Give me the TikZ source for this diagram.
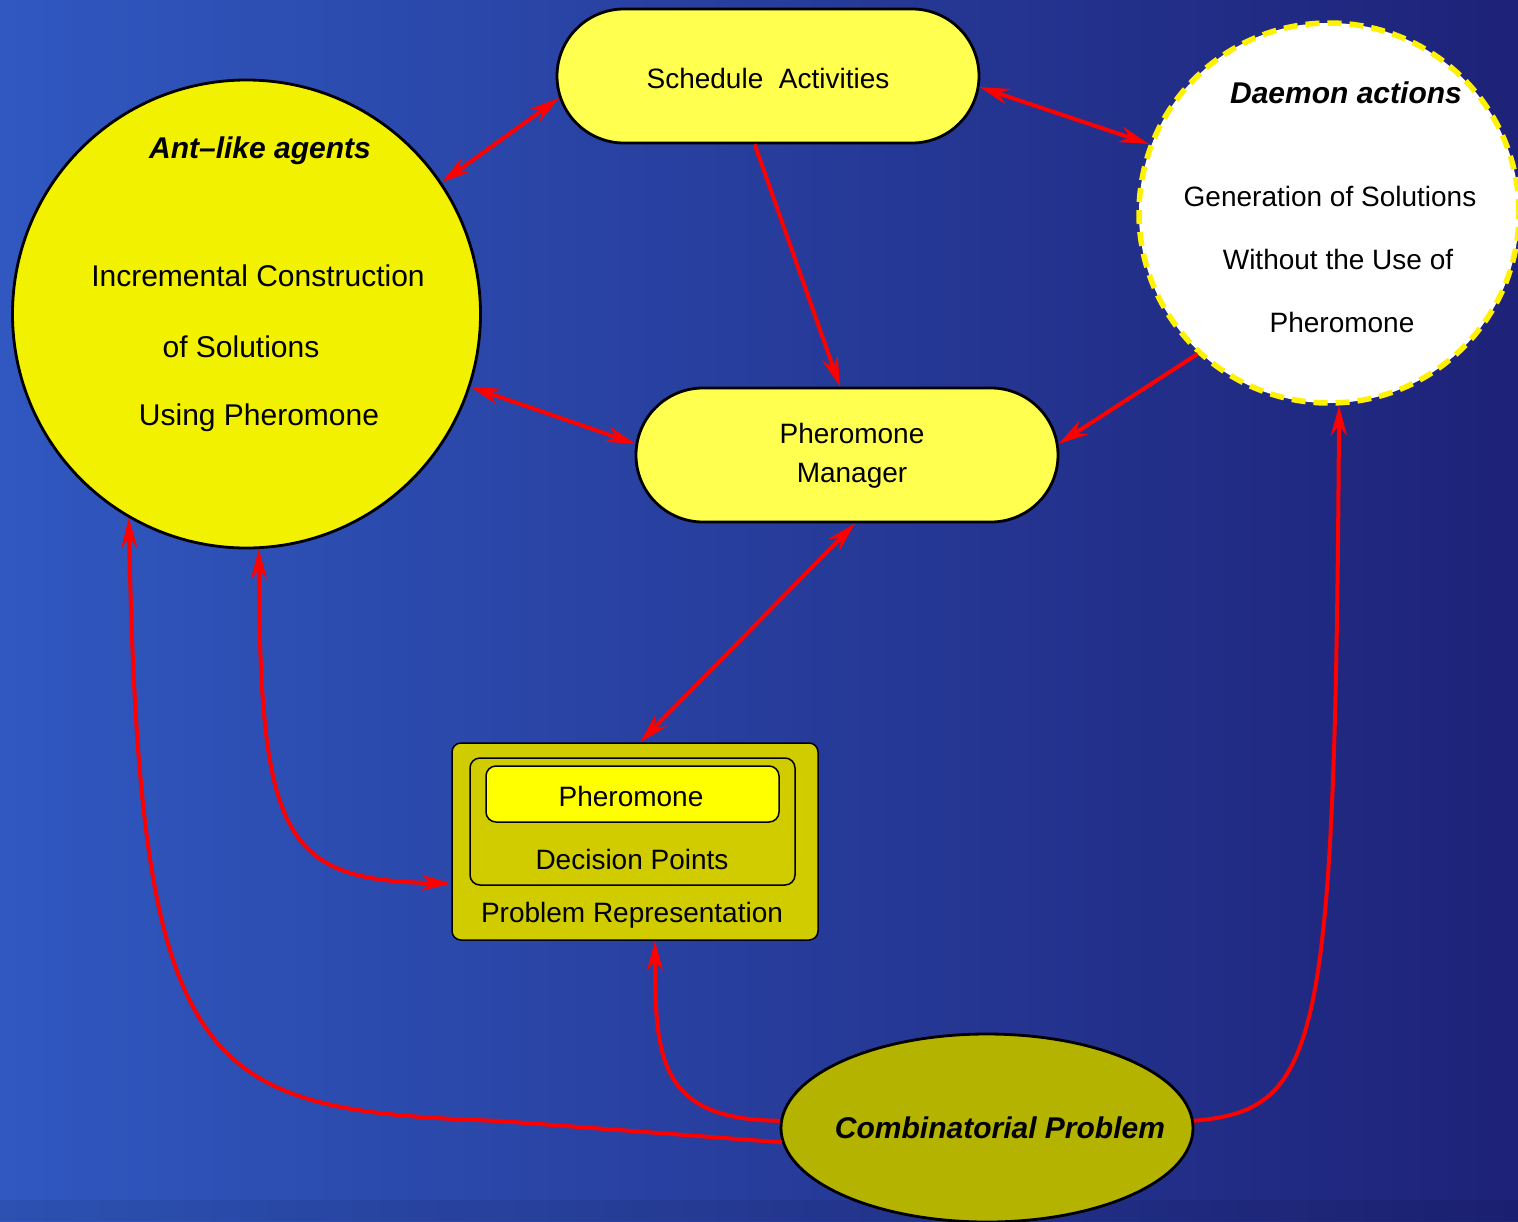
\documentclass[tikz,border=0pt]{standalone}
\usepackage{fontspec}
\setmainfont{Liberation Sans}
\usetikzlibrary{arrows.meta,shapes.geometric,shapes.misc}
\definecolor{bgL}{RGB}{48,88,192}
\definecolor{bgR}{RGB}{30,34,120}
\definecolor{antY}{RGB}{242,242,0}
\definecolor{stadY}{RGB}{255,255,80}
\definecolor{probY}{RGB}{208,204,0}
\definecolor{pherY}{RGB}{255,255,0}
\definecolor{combY}{RGB}{180,180,0}
\tikzset{
  reg/.style={font=\fontsize{28}{34}\selectfont, text=black, inner sep=0pt},
  regL/.style={font=\fontsize{30}{36}\selectfont, text=black, inner sep=0pt},
  bi/.style={font=\fontsize{30}{36}\selectfont\bfseries\itshape, text=black, inner sep=0pt},
  stadium/.style={rounded rectangle, draw=black, line width=2.8pt, fill=stadY,
    minimum width=422pt, minimum height=134pt, inner sep=0pt},
  arr/.style={draw=red, line width=4pt, -{Stealth[length=30pt,width=16pt,inset=10pt]}},
  barr/.style={draw=red, line width=4pt, {Stealth[length=30pt,width=16pt,inset=10pt]}-{Stealth[length=30pt,width=16pt,inset=10pt]}},
  boxr/.style={draw=black, line width=1.5pt, rounded corners=10pt, inner sep=0pt}
}
\begin{document}
\begin{tikzpicture}[x=1pt,y=-1pt]
\useasboundingbox (0,0) rectangle (1518,1221);
\clip (0,0) rectangle (1518,1221);
\shade[left color=bgL, right color=bgR] (0,0) rectangle (1518,1221);
\fill[black, opacity=0.07] (0,1200) rectangle (1518,1221);

% Ant-like agents
\node[circle, draw=black, line width=2.8pt, fill=antY, minimum size=468pt, inner sep=0pt] (ant) at (246.5,314) {};
\node[bi] (antT) at (260,151) {Ant\textendash like agents};
\node[regL] (antL1) at (258,276) {Incremental Construction};
\node[regL] (antL2) at (241,347) {of Solutions};
\node[regL] (antL3) at (259,418) {Using Pheromone};

% Schedule activities
\node[stadium] (sched) at (768,76) {};
\node[reg] (schedT) at (768,78) {Schedule\ \ Activities};

% Pheromone manager
\node[stadium] (mgr) at (847,455) {};
\node[reg, align=center, font=\fontsize{28}{39}\selectfont] (mgrT) at (852,456) {Pheromone\\Manager};

% Daemon actions
\node[circle, draw=yellow, line width=5.5pt, dash pattern=on 14pt off 8pt, fill=white, minimum size=380pt, inner sep=0pt] (dae) at (1329,213) {};
\node[bi] (daeT) at (1346,93) {Daemon actions};
\node[reg] (daeL1) at (1330,196) {Generation of Solutions};
\node[reg] (daeL2) at (1338,259) {Without the Use of};
\node[reg] (daeL3) at (1342,322) {Pheromone};

% Problem representation
\node[boxr, fill=probY, rounded corners=9pt, minimum width=366pt, minimum height=197pt] (prob) at (635,841.5) {};
\node[boxr, fill=probY, minimum width=325pt, minimum height=127pt] (dec) at (632.5,821.5) {};
\node[boxr, fill=pherY, minimum width=293pt, minimum height=56pt] (pher) at (632.5,794) {};
\node[reg] (pherT) at (631,796) {Pheromone};
\node[reg] (decT) at (632,859) {Decision Points};
\node[reg] (probT) at (632,915) {Problem Representation};

% Combinatorial problem
\node[ellipse, draw=black, line width=2.8pt, fill=combY, minimum width=412pt, minimum height=188pt, inner sep=0pt] (comb) at (987,1128) {};
\node[bi] (combT) at (1000,1128) {Combinatorial Problem};

% connectors
\draw[barr] (ant.34) -- (sched.186);
\draw[barr] (sched.-3.5) -- (dae.159);
\draw[arr] (sched.259) -- ([xshift=-7pt]mgr.north);
\draw[barr] (ant.-18) -- (mgr.177);
\draw[arr] (dae.227.5) -- (mgr.3);
\draw[barr] ([xshift=8pt]mgr.south) -- ([xshift=5pt]prob.north);
\draw[barr] (ant.-87) .. controls (260,840) and (285,880) .. ([yshift=-42pt]prob.west);
\draw[arr] (comb.184) -- (500,1121) .. controls (200,1110) and (140,1080) .. (ant.-120);
\draw[arr] (comb.178) .. controls (660,1120) and (655,1060) .. ([xshift=20pt]prob.south);
\draw[arr] (comb.2) .. controls (1320,1110) and (1335,1050) .. (dae.-87);
\end{tikzpicture}
\end{document}
